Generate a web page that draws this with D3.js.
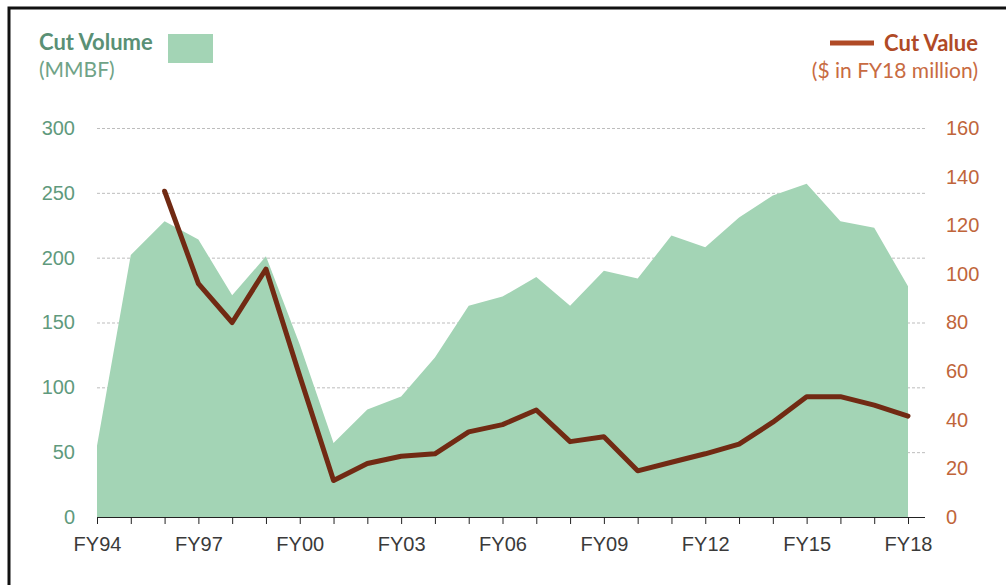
<!DOCTYPE html>
<html>
<head>
<meta charset="utf-8">
<script src="https://cdn.jsdelivr.net/npm/d3@7"></script>
<style>
  body { margin: 0; background: #fff; }
  svg { display: block; font-family: Lato, "Noto Sans", sans-serif; }
  .grid line { stroke: #bdbdbd; stroke-dasharray: 3,2; }
  .grid path { display: none; }
</style>
</head>
<body>
<div class="chart"></div>
<script>
// fiscal years FY94..FY18
var years = ["FY94","FY95","FY96","FY97","FY98","FY99","FY00","FY01","FY02","FY03","FY04","FY05","FY06",
             "FY07","FY08","FY09","FY10","FY11","FY12","FY13","FY14","FY15","FY16","FY17","FY18"];

// cut volume, MMBF (left axis)
var cutVolume = [55, 202, 228, 214, 171, 201, 133, 57, 83, 93, 123, 163, 170,
                 185, 163, 190, 184, 217, 208, 231, 248, 257, 228, 223, 178];

// cut value, $ in FY18 million (right axis), starts FY96
var cutValue = [null, null, 134, 96, 80, 102, 58, 15, 22, 25, 26, 35, 38,
                44, 31, 33, 19, 22.5, 26, 30, 39, 49.5, 49.5, 46, 41.5];

var leftTicks = [0, 50, 100, 150, 200, 250, 300];
var rightTicks = [0, 20, 40, 60, 80, 100, 120, 140, 160];
var labelYears = ["FY94","FY97","FY00","FY03","FY06","FY09","FY12","FY15","FY18"];

var W = 1006, H = 585;
var margin = {top: 128, left: 97, right: 81, bottom: 68};
var plotW = 908 - margin.left;           // last category at x=908
var plotH = H - margin.top - margin.bottom;

var svg = d3.select(".chart").append("svg")
    .attr("width", W)
    .attr("height", H);

// frame (only top and left edges visible)
svg.append("path")
    .attr("d", "M9,585 L9,8 L1006,8")
    .attr("fill", "none")
    .attr("stroke", "#111")
    .attr("stroke-width", 3);

var g = svg.append("g")
    .attr("transform", "translate(" + margin.left + "," + margin.top + ")");

var x = d3.scalePoint().domain(years).range([0, plotW]);
var yL = d3.scaleLinear().domain([0, 300]).range([plotH, 0]);
var yR = d3.scaleLinear().domain([0, 160]).range([plotH, 0]);

var axisEnd = 925 - margin.left;

// gridlines
g.append("g")
    .attr("class", "grid")
    .call(d3.axisLeft(yL).tickValues(leftTicks.slice(1)).tickSize(-axisEnd).tickFormat(""));

// area
var area = d3.area()
    .x(function (d, i) { return x(years[i]); })
    .y0(plotH)
    .y1(function (d) { return yL(d); });

g.append("path")
    .datum(cutVolume)
    .attr("fill", "#a3d4b5")
    .attr("d", area);

// line
var line = d3.line()
    .defined(function (d) { return d != null; })
    .x(function (d, i) { return x(years[i]); })
    .y(function (d) { return yR(d); });

g.append("path")
    .datum(cutValue)
    .attr("fill", "none")
    .attr("stroke", "#712a13")
    .attr("stroke-width", 5)
    .attr("stroke-linejoin", "round")
    .attr("stroke-linecap", "round")
    .attr("d", line);

// x axis
var xAxis = g.append("g")
    .attr("transform", "translate(0," + plotH + ")")
    .call(d3.axisBottom(x).tickSize(7).tickSizeOuter(0)
        .tickFormat(function (d) { return labelYears.indexOf(d) >= 0 ? d : ""; }));
xAxis.select(".domain").attr("d", "M0,0.5H" + axisEnd).attr("stroke", "#222");
xAxis.selectAll(".tick line").attr("stroke", "#222");
xAxis.selectAll("text")
    .attr("fill", "#3a3a3a")
    .attr("dy", "1.2em")
    .style("font-size", "20px");

// left axis labels
var leftAxis = g.append("g")
    .call(d3.axisLeft(yL).tickValues(leftTicks).tickSize(0).tickPadding(22));
leftAxis.select(".domain").remove();
leftAxis.selectAll("text")
    .attr("fill", "#5f9a7d")
    .style("font-size", "20px");

// right axis labels
var rightAxis = g.append("g")
    .attr("transform", "translate(" + (946 - margin.left) + ",0)")
    .call(d3.axisRight(yR).tickValues(rightTicks).tickSize(0).tickPadding(0));
rightAxis.select(".domain").remove();
rightAxis.selectAll("text")
    .attr("fill", "#c0653a")
    .style("font-size", "20px");

// legend - cut volume
svg.append("text")
    .attr("x", 39).attr("y", 50)
    .attr("fill", "#5a9075")
    .style("font-size", "22px").style("font-weight", "bold")
    .text("Cut Volume");
svg.append("text")
    .attr("x", 39).attr("y", 77)
    .attr("fill", "#6fa387")
    .style("font-size", "21px")
    .text("(MMBF)");
svg.append("rect")
    .attr("x", 168).attr("y", 34)
    .attr("width", 45).attr("height", 29)
    .attr("fill", "#a3d4b5");

// legend - cut value
svg.append("line")
    .attr("x1", 830).attr("x2", 874)
    .attr("y1", 43).attr("y2", 43)
    .attr("stroke", "#b04a26")
    .attr("stroke-width", 5);
svg.append("text")
    .attr("x", 978).attr("y", 51)
    .attr("text-anchor", "end")
    .attr("fill", "#b04a26")
    .style("font-size", "22px").style("font-weight", "bold")
    .text("Cut Value");
svg.append("text")
    .attr("x", 978).attr("y", 78)
    .attr("text-anchor", "end")
    .attr("fill", "#c86b42")
    .style("font-size", "21px")
    .text("($ in FY18 million)");
</script>
</body>
</html>
